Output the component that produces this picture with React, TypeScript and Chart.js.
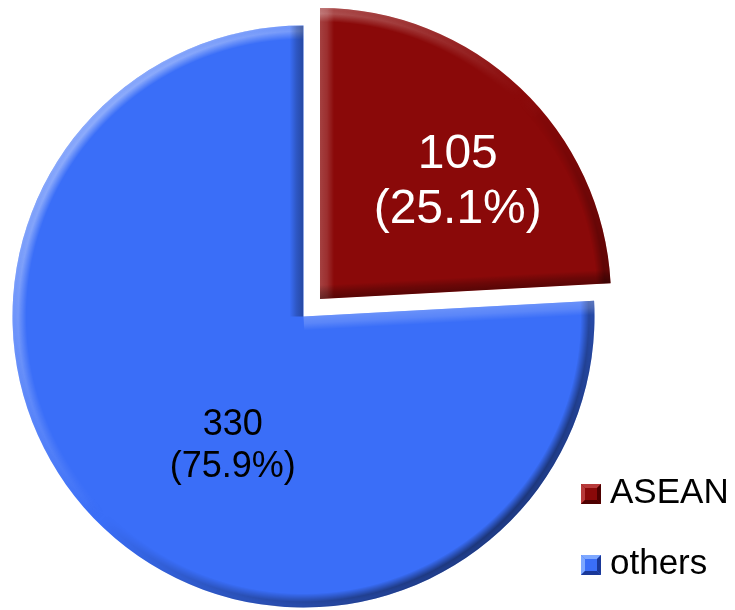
import React, { useEffect, useRef } from "react";
import { Chart, registerables } from "chart.js";

Chart.register(...registerables);

// ---- data ----
const categories = ["ASEAN", "others"];
const values = [105, 330];
const percentLabels = ["(25.1%)", "(75.9%)"];

// ---- styles ----
const baseColors = ["#8a0909", "#3a6ef8"];
const lightColors = ["#b73a3a", "#7ea8ff"];
const darkColors = ["#4e0000", "#1a3898"];
const labelColors = ["#ffffff", "#000000"];
const explode = [96, 0];
const RADIUS = 291;
const BEVEL = 14;
const FONT = '"Liberation Sans", Arial, Helvetica, sans-serif';
const labelPlacement = [
  { r: 0.653, shift: 3, size: 48, gap: 55 },
  { r: 0.474, shift: -12.6, size: 36, gap: 42 },
];

function shade(d: number, a: number) {
  return d >= 0 ? `rgba(255,255,255,${(a * d).toFixed(3)})` : `rgba(0,0,0,${(a * -d).toFixed(3)})`;
}

function drawBevel(ctx: CanvasRenderingContext2D, cx: number, cy: number, R: number, start: number, end: number, w: number) {
  const lx = -Math.SQRT1_2;
  const ly = -Math.SQRT1_2;
  const W = ctx.canvas.width;
  const H = ctx.canvas.height;
  const off = document.createElement("canvas");
  off.width = W;
  off.height = H;
  const o = off.getContext("2d") as CanvasRenderingContext2D;
  // rim colour by direction
  const cg = (o as any).createConicGradient(0, cx, cy);
  const N = 72;
  for (let k = 0; k <= N; k++) {
    const a = (k / N) * Math.PI * 2;
    const d = Math.cos(a) * lx + Math.sin(a) * ly;
    cg.addColorStop(k / N, d >= 0 ? shade(d, 0.42) : shade(d, 0.5));
  }
  o.beginPath();
  o.arc(cx, cy, R + 1, 0, Math.PI * 2);
  o.arc(cx, cy, R - w, Math.PI * 2, 0, true);
  o.closePath();
  o.fillStyle = cg;
  o.fill();
  // radial profile mask
  o.globalCompositeOperation = "destination-in";
  const rg = o.createRadialGradient(cx, cy, R - w, cx, cy, R);
  rg.addColorStop(0, "rgba(0,0,0,0)");
  rg.addColorStop(0.6, "rgba(0,0,0,1)");
  rg.addColorStop(0.85, "rgba(0,0,0,0.9)");
  rg.addColorStop(1, "rgba(0,0,0,1)");
  o.fillStyle = rg;
  o.fillRect(0, 0, W, H);
  o.globalCompositeOperation = "source-over";

  ctx.save();
  ctx.beginPath();
  ctx.moveTo(cx, cy);
  ctx.arc(cx, cy, R, start, end);
  ctx.closePath();
  ctx.clip();
  ctx.drawImage(off, 0, 0);
  // straight edges
  const edges = [
    { t: start, inward: start + Math.PI / 2 },
    { t: end, inward: end - Math.PI / 2 },
  ];
  edges.forEach((e) => {
    const ix = Math.cos(e.inward);
    const iy = Math.sin(e.inward);
    const d = -(ix * lx + iy * ly);
    const ex = cx + Math.cos(e.t) * R;
    const ey = cy + Math.sin(e.t) * R;
    const g = ctx.createLinearGradient(cx, cy, cx + ix * w, cy + iy * w);
    g.addColorStop(0, shade(d, d >= 0 ? 0.32 : 0.5));
    g.addColorStop(0.5, shade(d, d >= 0 ? 0.22 : 0.3));
    g.addColorStop(1, d >= 0 ? "rgba(255,255,255,0)" : "rgba(0,0,0,0)");
    ctx.beginPath();
    ctx.moveTo(cx, cy);
    ctx.lineTo(ex, ey);
    ctx.lineTo(ex + ix * w, ey + iy * w);
    ctx.lineTo(cx + ix * w, cy + iy * w);
    ctx.closePath();
    ctx.fillStyle = g;
    ctx.fill();
  });
  ctx.restore();
}

function arcGeom(arc: any) {
  const p = arc.getProps(["x", "y", "startAngle", "endAngle", "outerRadius"], true);
  const mid = (p.startAngle + p.endAngle) / 2;
  const off = (arc.options.offset || 0) / 4;
  return { ...p, mid, ox: p.x + Math.cos(mid) * off, oy: p.y + Math.sin(mid) * off };
}

const bevelPlugin = {
  id: "bevel",
  afterDatasetsDraw(chart: any) {
    const meta = chart.getDatasetMeta(0);
    meta.data.forEach((arc: any) => {
      const g = arcGeom(arc);
      drawBevel(chart.ctx, g.ox, g.oy, g.outerRadius, g.startAngle, g.endAngle, BEVEL);
    });
  },
};

const labelPlugin = {
  id: "sliceLabels",
  afterDatasetsDraw(chart: any) {
    const meta = chart.getDatasetMeta(0);
    const ctx = chart.ctx;
    meta.data.forEach((arc: any, i: number) => {
      const g = arcGeom(arc);
      const pl = labelPlacement[i];
      const ang = g.mid + (pl.shift * Math.PI) / 180;
      const x = g.ox + Math.cos(ang) * g.outerRadius * pl.r;
      const y = g.oy + Math.sin(ang) * g.outerRadius * pl.r;
      ctx.save();
      ctx.fillStyle = labelColors[i];
      ctx.font = `${pl.size}px ${FONT}`;
      ctx.textAlign = "center";
      ctx.textBaseline = "alphabetic";
      ctx.fillText(String(values[i]), x, y);
      ctx.fillText(percentLabels[i], x, y + pl.gap);
      ctx.restore();
    });
  },
};

const legendPlugin = {
  id: "cornerLegend",
  afterDraw(chart: any) {
    const ctx = chart.ctx;
    const left = chart.width - 154;
    categories.forEach((name, i) => {
      const x = left;
      const y = 484 + i * 71;
      const s = 20;
      ctx.save();
      ctx.fillStyle = baseColors[i];
      ctx.fillRect(x, y, s, s);
      const tri = (pts: number[][], col: string) => {
        ctx.beginPath();
        ctx.moveTo(pts[0][0], pts[0][1]);
        pts.slice(1).forEach((q) => ctx.lineTo(q[0], q[1]));
        ctx.closePath();
        ctx.fillStyle = col;
        ctx.fill();
      };
      const b = 4;
      tri([[x, y], [x + s, y], [x + s - b, y + b], [x + b, y + b]], lightColors[i]);
      tri([[x, y], [x + b, y + b], [x + b, y + s - b], [x, y + s]], lightColors[i]);
      tri([[x + s, y], [x + s, y + s], [x + s - b, y + s - b], [x + s - b, y + b]], darkColors[i]);
      tri([[x, y + s], [x + s, y + s], [x + s - b, y + s - b], [x + b, y + s - b]], darkColors[i]);
      ctx.fillStyle = "#000000";
      ctx.font = `35px ${FONT}`;
      ctx.textAlign = "left";
      ctx.textBaseline = "alphabetic";
      ctx.fillText(name, x + 29, y + 19);
      ctx.restore();
    });
  },
};

export default function App() {
  const ref = useRef<HTMLCanvasElement>(null);
  useEffect(() => {
    if (!ref.current) return;
    const chart = new Chart(ref.current, {
      type: "pie",
      data: {
        labels: categories,
        datasets: [
          {
            data: values,
            backgroundColor: baseColors,
            borderWidth: 0,
            offset: explode,
          },
        ],
      },
      options: {
        responsive: false,
        animation: false,
        radius: RADIUS,
        layout: { padding: { left: 0, right: 128, top: 23, bottom: 0 } },
        plugins: {
          legend: { display: false },
          tooltip: { enabled: false },
        },
        events: [],
      } as any,
      plugins: [bevelPlugin, labelPlugin, legendPlugin],
    });
    return () => chart.destroy();
  }, []);
  return (
    <div style={{ position: "fixed", left: 0, top: 0, width: 735, height: 610, background: "#ffffff" }}>
      <canvas ref={ref} width={735} height={610} />
    </div>
  );
}
